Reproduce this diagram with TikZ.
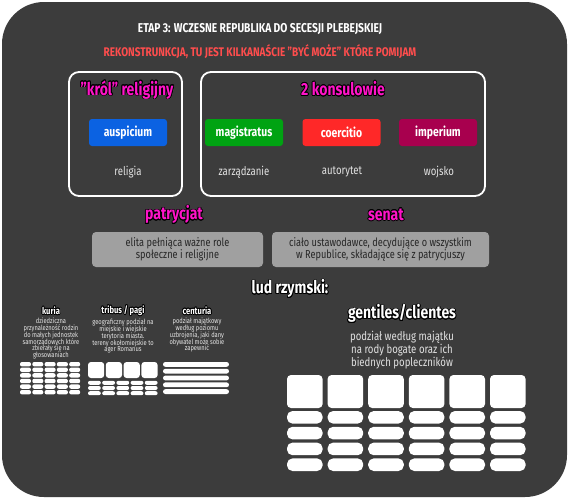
\documentclass[tikz,border=0pt]{standalone}
\usepackage{fontspec}
\setmainfont{Fira Sans}[FakeStretch=0.8]
\usepackage{contour}
\contourlength{0.7pt}
\usetikzlibrary{positioning}
\definecolor{tlo}{HTML}{3C3C3C}
\definecolor{roz}{HTML}{FF14C8}
\definecolor{czerw}{HTML}{FF4D4D}
\definecolor{nieb}{HTML}{0B62E2}
\definecolor{ziel}{HTML}{00A312}
\definecolor{koer}{HTML}{FF2828}
\definecolor{imp}{HTML}{A8004E}
\definecolor{szary}{HTML}{A0A0A0}
\definecolor{jasny}{HTML}{E2E2E2}
\newcommand{\cudz}{\char34}
\newcommand{\ciasno}{\lineskiplimit-5pt\relax}

\begin{document}
\begin{tikzpicture}[x=1pt,y=-1pt,
  ramka/.style={draw=white,line width=1.8pt,rounded corners=10pt},
  tag/.style={rounded corners=3pt,minimum width=78pt,minimum height=27pt,
    text=white,font=\bfseries\fontsize{13}{14}\selectfont},
  naglowek/.style={text=roz,font=\bfseries\fontsize{17.5}{19}\selectfont},
  opis/.style={text=jasny,font=\fontsize{12}{14}\selectfont},
  szarybox/.style={fill=szary,rounded corners=4pt,minimum height=35pt,
    text=black!85,align=center,font=\fontsize{11.5}{12}\selectfont\ciasno},
  maly/.style={text=white,font=\bfseries\fontsize{9.5}{11}\selectfont},
  drobny/.style={text=jasny!90,align=center,
    font=\fontsize{7.2}{6.7}\selectfont\ciasno}]
  \useasboundingbox (0,0) rectangle (568,499);
  \fill[white] (0,0) rectangle (568,499);
  \fill[tlo,rounded corners=42pt] (2,2) rectangle (567,497);

  \node[text=white,font=\bfseries\fontsize{12.8}{14}\selectfont] (etap) at (260,29)
    {ETAP 3: WCZESNE REPUBLIKA DO SECESJI PLEBEJSKIEJ};
  \node[text=czerw,font=\bfseries\fontsize{12.5}{14}\selectfont] (rek) at (260,52)
    {REKONSTRUNKCJA, TU JEST KILKANAŚCIE \cudz BYĆ MOŻE\cudz{} KTÓRE POMIJAM};

  % ramki
  \node[ramka,minimum width=113pt,minimum height=124pt] (krol) at (125.5,134) {};
  \node[ramka,minimum width=284pt,minimum height=124pt] (kons) at (343,134) {};
  \node[naglowek] (krolt) at (127,90) {\contour{black}{\cudz król\cudz{} religijny}};
  \node[naglowek] (konst) at (343,89) {\contour{black}{2 konsulowie}};

  \node[tag,fill=nieb] (aus) at (128,132.5) {auspicium};
  \node[tag,fill=ziel] (mag) at (244,132.5) {magistratus};
  \node[tag,fill=koer] (coe) at (341.5,132.5) {coercitio};
  \node[tag,fill=imp] (imp) at (438,132.5) {imperium};
  \node[opis] (rel) at (128,172) {religia};
  \node[opis] (zarz) at (244,172) {zarządzanie};
  \node[opis] (aut) at (342,172) {autorytet};
  \node[opis] (woj) at (439,172) {wojsko};

  % patrycjat / senat
  \node[naglowek] (patr) at (174,215) {\contour{black}{patrycjat}};
  \node[naglowek] (sen) at (386,215) {\contour{black}{senat}};
  \node[szarybox,minimum width=171pt] (patrb) at (177.5,249.5)
    {elita pełniąca ważne role\\społeczne i religijne};
  \node[szarybox,minimum width=217pt] (senb) at (380.5,249.5)
    {ciało ustawodawce, decydujące o wszystkim\\w Republice, składające się z patrycjuszy};

  \node[text=white,font=\bfseries\fontsize{17.5}{19}\selectfont] (lud) at (290,289)
    {\contour{black}{lud rzymski:}};

  % kuria, tribus, centuria
  \node[maly] (kur) at (51,311) {\contour{black}{kuria}};
  \node[maly] (trib) at (123,311) {\contour{black}{tribus / pagi}};
  \node[maly] (cent) at (197,311) {\contour{black}{centuria}};
  \node[drobny,below=-4pt of kur] (kuro) {dziedziczna\\przynależność rodzin\\do małych jednostek\\
    samorządowych które\\zbierały się na\\głosowaniach};
  \node[drobny,below=-4pt of trib] (tribo) {geograficzny podział na\\miejskie i wiejskie\\
    terytoria miasta.\\tereny okołomiejskie to\\ager Romanus};
  \node[drobny,below=-4pt of cent] (cento) {podział majątkowy\\według poziomu\\
    uzbrojenia, jaki dany\\obywatel może sobie\\zapewnić};
  \foreach \i in {0,...,4}
    \foreach \j in {0,...,5}
      \fill[white,rounded corners=2pt] ({20+\i*12.3},{362+\j*5.6}) rectangle ++(11,4.4);
  \foreach \i in {0,...,3}
    \fill[white,rounded corners=3pt] ({88+\i*17.8},362) rectangle ++(16.2,16);
  \foreach \i in {0,...,4}
    \foreach \j in {0,...,2}
      \fill[white,rounded corners=2pt] ({88+\i*14.2},{380.8+\j*5.2}) rectangle ++(12.8,4);
  \foreach \j in {0,...,4}
    \fill[white,rounded corners=2.4pt] (163,{362+\j*6.8}) rectangle ++(66,4.8);

  % gentiles/clientes
  \node[text=white,font=\bfseries\fontsize{17.5}{19}\selectfont] (gent) at (402,314)
    {\contour{black}{gentiles/clientes}};
  \node[opis,align=center,font=\fontsize{12}{12.6}\selectfont\ciasno,
    below=1pt of gent] (gento)
    {podział według majątku\\na rody bogate oraz ich\\biednych popleczników};
  \foreach \i in {0,...,5} {
    \fill[white,rounded corners=4pt] ({287+\i*40.6},375) rectangle ++(35.6,33);
    \foreach \j in {0,...,3}
      \fill[white,rounded corners=5.5pt] ({287+\i*40.6},{411+\j*15.8}) rectangle ++(35.6,12.6);
  }
\end{tikzpicture}
\end{document}
